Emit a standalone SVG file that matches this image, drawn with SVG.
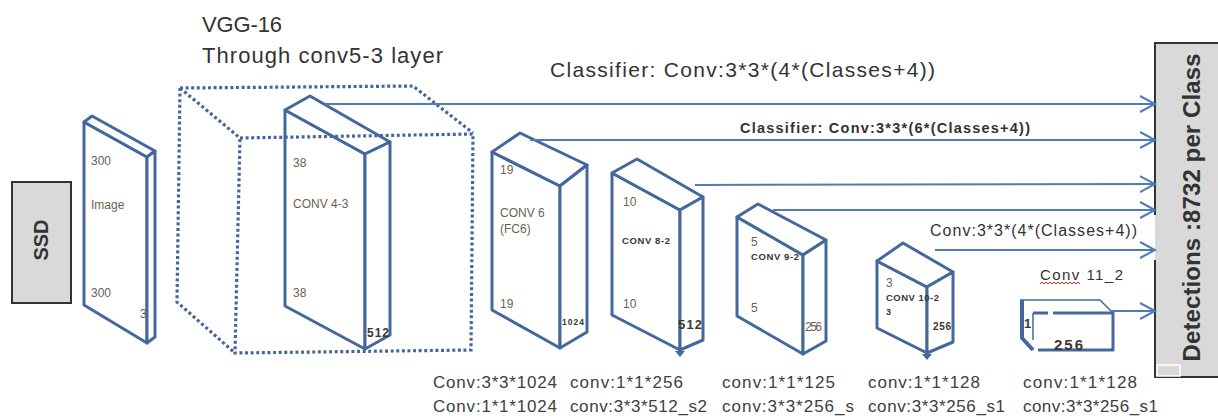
<svg xmlns="http://www.w3.org/2000/svg" width="1218" height="416" viewBox="0 0 1218 416">
  <defs>
    <style>
      .slab { fill:#ffffff; stroke:#44689c; stroke-width:3; stroke-linejoin:round; }
      .dots { fill:none; stroke:#44689c; stroke-width:3.2; stroke-dasharray:3 2.6; }
      .conn { fill:none; stroke:#4f7cb8; stroke-width:2; marker-end:url(#openArrow); }
      .lbl { font-family:"Liberation Sans", Arial, sans-serif; fill:#6e5e50; font-size:12px; }
      .lblb { font-family:"Liberation Sans", Arial, sans-serif; fill:#3e352d; font-weight:bold; }
      .cap { font-family:"Liberation Sans", Arial, sans-serif; fill:#333333; }
      .foot { font-family:"Liberation Sans", Arial, sans-serif; fill:#404040; font-size:17px; }
      .box { fill:#d9d9d9; stroke:#333333; stroke-width:2; }
    </style>
    <marker id="openArrow" markerUnits="userSpaceOnUse" markerWidth="18" markerHeight="20" refX="15" refY="9" orient="auto">
      <path d="M0,1 L15,9 L0,17" fill="none" stroke="#4f7cb8" stroke-width="2"/>
    </marker>
  </defs>

  <!-- SSD title block -->
  <g id="ssd">
    <rect class="box" x="12" y="182" width="59" height="121"/>
    <text class="cap" transform="translate(48,240) rotate(-90)" text-anchor="middle" font-size="20" font-weight="bold" fill="#111">SSD</text>
  </g>

  <!-- VGG-16 caption -->
  <g id="vgg-caption">
    <text class="cap" x="202" y="32" font-size="22" textLength="80">VGG-16</text>
    <text class="cap" x="202" y="63" font-size="22" textLength="241">Through conv5-3 layer</text>
  </g>

  <!-- input image slab -->
  <g id="image">
    <polygon class="slab" points="84,122 147,157 147,343 84,305"/>
    <polygon class="slab" points="84,122 92,116 155,151 147,157"/>
    <polygon class="slab" points="147,157 155,151 155,337 147,343"/>
    <text class="lbl" x="91" y="165">300</text>
    <text class="lbl" x="91" y="209">Image</text>
    <text class="lbl" x="91" y="297">300</text>
    <text class="lbl" x="140" y="318">3</text>
  </g>

  <!-- conv4-3 slab -->
  <g id="conv4-3">
    <polygon class="slab" points="285,110 365,154 365,349 285,306"/>
    <polygon class="slab" points="285,110 310,96 390,142 365,154"/>
    <polygon class="slab" points="365,154 390,142 390,335 365,349"/>
    <text class="lbl" x="293" y="167">38</text>
    <text class="lbl" x="293" y="208">CONV 4-3</text>
    <text class="lbl" x="293" y="297">38</text>
    <text class="lblb" x="367" y="337" font-size="12" textLength="22">512</text>
  </g>

  <!-- VGG-16 dotted block around conv4-3 -->
  <g id="vgg16">
    <path class="dots" d="M180,88 L413,86 L473,133"/>
    <path class="dots" d="M180,88 L240,138"/>
    <path class="dots" d="M180,88 L177,302 L235,353"/>
    <path class="dots" d="M240,138 L473,134 L471,350 L235,353 Z"/>
  </g>

  <!-- conv6 (fc6) slab -->
  <g id="conv6">
    <polygon class="slab" points="492,152 560,186 560,348 492,310"/>
    <polygon class="slab" points="492,152 520,133 587,165 560,186"/>
    <polygon class="slab" points="560,186 587,165 587,332 560,348"/>
    <text class="lbl" x="500" y="174">19</text>
    <text class="lbl" x="500" y="217">CONV 6</text>
    <text class="lbl" x="500" y="233">(FC6)</text>
    <text class="lbl" x="500" y="308">19</text>
    <text class="lblb" x="562" y="325" font-size="8.5" textLength="22">1024</text>
  </g>

  <!-- conv8-2 slab -->
  <g id="conv8-2">
    <polygon class="slab" points="612,173 680,210 680,350 612,315"/>
    <polygon class="slab" points="612,173 637,159 703,197 680,210"/>
    <polygon class="slab" points="680,210 703,197 703,340 680,350"/>
    <polygon points="675,351 685,351 680,357" fill="#44689c"/>
    <text class="lbl" x="623" y="206">10</text>
    <text class="lblb" x="622" y="244" font-size="9.5" textLength="48">CONV 8-2</text>
    <text class="lbl" x="623" y="308">10</text>
    <text class="lblb" x="678" y="329" font-size="13" fill="#222" textLength="24">512</text>
  </g>

  <!-- conv9-2 slab -->
  <g id="conv9-2">
    <polygon class="slab" points="737,217 803,255 803,354 737,316"/>
    <polygon class="slab" points="737,217 758,204 826,240 803,255"/>
    <polygon class="slab" points="803,255 826,240 826,341 803,354"/>
    <text class="lbl" x="751" y="246" font-size="13">5</text>
    <text class="lblb" x="751" y="260" font-size="9.5" textLength="48">CONV 9-2</text>
    <text class="lbl" x="751" y="312">5</text>
    <text class="lbl" x="805" y="331" font-size="10" textLength="17">256</text>
  </g>

  <!-- conv10-2 slab -->
  <g id="conv10-2">
    <polygon class="slab" points="877,261 927,287 927,353 877,328"/>
    <polygon class="slab" points="877,261 903,243 953,272 927,287"/>
    <polygon class="slab" points="927,287 953,272 953,342 927,353"/>
    <polygon points="922,354 932,354 927,360" fill="#44689c"/>
    <text class="lbl" x="886" y="287" font-size="12">3</text>
    <text class="lblb" x="886" y="301" font-size="9.5" textLength="53">CONV 10-2</text>
    <text class="lblb" x="886" y="315" font-size="9">3</text>
    <text class="lblb" x="933" y="330" font-size="10" textLength="18">256</text>
  </g>

  <!-- conv11_2 block -->
  <g id="conv11-2">
    <text class="cap" x="1040" y="280" font-size="15" textLength="83">Conv 11_2</text>
    <polyline points="1040,284 1042,282 1044,284 1046,282 1048,284 1050,282 1052,284 1054,282 1056,284 1058,282 1060,284 1062,282 1064,284 1066,282 1068,284 1070,282 1072,284 1074,282 1076,284 1078,282 1080,284" fill="none" stroke="#e02020" stroke-width="1"/>
    <g fill="none" stroke="#44689c" stroke-linejoin="round">
      <path d="M1020,300 L1100,300 L1113,313" stroke-width="1.5"/>
      <path d="M1033,313 L1048,313 M1053,313 L1113,313 L1113,350 L1038,350" stroke-width="3"/>
      <path d="M1022,300 L1022,338 L1033,350" stroke-width="4"/>
      <path d="M1033,313 L1033,340" stroke-width="1.5"/>
    </g>
    <text class="lblb" x="1024" y="328" font-size="13" fill="#3a3026">1</text>
    <text class="lblb" x="1054" y="350" font-size="15" fill="#2b2520" textLength="29">256</text>
  </g>

  <!-- detections output block -->
  <g id="detections">
    <rect x="1155" y="43" width="70" height="334" fill="#d9d9d9"/>
    <path d="M1155,215 L1155,43 L1225,43 M1155,260 L1155,377 L1225,377" fill="none" stroke="#333333" stroke-width="2"/>
    <rect x="1157" y="365" width="23" height="11" fill="none" stroke="#ffffff" stroke-width="1.5"/>
    <text class="cap" transform="translate(1200,207.5) rotate(-90)" text-anchor="middle" font-size="24" font-weight="bold" fill="#111" textLength="308">Detections :8732 per Class</text>
  </g>

  <!-- classifier connectors -->
  <g id="connectors">
    <line class="conn" x1="325" y1="104" x2="1155" y2="104"/>
    <line class="conn" x1="530" y1="140" x2="1155" y2="140"/>
    <line class="conn" x1="695" y1="185" x2="1155" y2="184"/>
    <line class="conn" x1="773" y1="210" x2="1155" y2="210"/>
    <line class="conn" x1="935" y1="250" x2="1155" y2="250"/>
    <line class="conn" x1="1110" y1="311" x2="1155" y2="311"/>
  </g>

  <!-- connector labels -->
  <g id="connector-labels">
    <text class="cap" x="550" y="77" font-size="21" textLength="385">Classifier: Conv:3*3*(4*(Classes+4))</text>
    <text class="cap" x="740" y="133" font-size="14.5" font-weight="bold" fill="#111" textLength="290">Classifier: Conv:3*3*(6*(Classes+4))</text>
    <text class="cap" x="930" y="236" font-size="16" fill="#222" textLength="207">Conv:3*3*(4*(Classes+4))</text>
  </g>

  <!-- layer parameter notes -->
  <g id="layer-notes">
    <text class="foot" x="433" y="388" textLength="124">Conv:3*3*1024</text>
    <text class="foot" x="433" y="412" textLength="124">Conv:1*1*1024</text>
    <text class="foot" x="570" y="388" textLength="113">conv:1*1*256</text>
    <text class="foot" x="570" y="412" textLength="137">conv:3*3*512_s2</text>
    <text class="foot" x="722" y="388" textLength="113">conv:1*1*125</text>
    <text class="foot" x="722" y="412" textLength="132">conv:3*3*256_s</text>
    <text class="foot" x="868" y="388" textLength="112">conv:1*1*128</text>
    <text class="foot" x="868" y="412" textLength="137">conv:3*3*256_s1</text>
    <text class="foot" x="1023" y="388" textLength="114">conv:1*1*128</text>
    <text class="foot" x="1023" y="412" textLength="135">conv:3*3*256_s1</text>
  </g>
</svg>
